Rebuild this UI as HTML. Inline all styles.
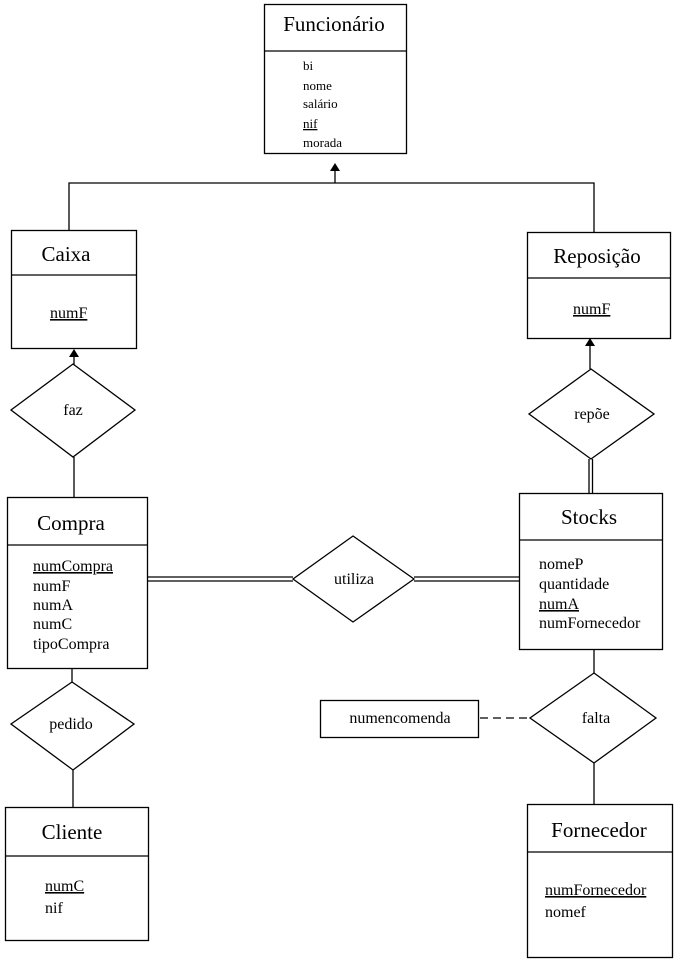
<!DOCTYPE html>
<html><head><meta charset="utf-8"><style>
html,body{margin:0;padding:0;background:#fff;}
svg text{font-family:"Liberation Serif",serif;fill:#000;}
.u{text-decoration:underline;}
</style></head><body>
<svg width="678" height="966" viewBox="0 0 678 966" xmlns="http://www.w3.org/2000/svg">
<g fill="none" stroke="#000" stroke-width="1.3">
<rect x="264.5" y="4.5" width="142" height="149"/><line x1="264" y1="51" x2="406" y2="51"/>
<line x1="335" y1="170" x2="335" y2="183"/>
<polyline points="69,230 69,183 594,183 594,232"/>
<rect x="11.5" y="230.5" width="125" height="118"/><line x1="11" y1="275" x2="137" y2="275"/>
<rect x="527.5" y="232.5" width="143" height="106"/><line x1="527" y1="278" x2="670" y2="278"/>
<line x1="74" y1="356" x2="74" y2="365"/>
<polygon points="73,364 135,410 73,457 11,410"/>
<line x1="74" y1="457" x2="74" y2="497"/>
<line x1="590" y1="346" x2="590" y2="369"/>
<polygon points="591,369 654,414 591,459 529,414"/>
<line x1="589" y1="459" x2="589" y2="493"/><line x1="592.5" y1="459" x2="592.5" y2="493"/>
<rect x="7.5" y="497.5" width="140" height="171"/><line x1="7" y1="545" x2="147" y2="545"/>
<rect x="519.5" y="493.5" width="143" height="156"/><line x1="519" y1="540" x2="662" y2="540"/>
<polygon points="353,536 414,579 353,622 293,579"/>
<line x1="147" y1="577" x2="293" y2="577"/><line x1="147" y1="581" x2="293" y2="581"/>
<line x1="414" y1="577" x2="519" y2="577"/><line x1="414" y1="581" x2="519" y2="581"/>
<line x1="72" y1="668" x2="72" y2="682"/>
<polygon points="72,682 134,724 73,770 11,724"/>
<line x1="73" y1="770" x2="73" y2="807"/>
<rect x="5.5" y="807.5" width="143" height="133"/><line x1="5" y1="856" x2="148" y2="856"/>
<line x1="594" y1="649" x2="594" y2="673"/>
<polygon points="594,673 656,718 594,763 530,718"/>
<line x1="594" y1="763" x2="594" y2="804"/>
<rect x="320.5" y="700.5" width="158" height="37"/>
<line x1="480" y1="718" x2="530" y2="718" stroke-dasharray="8,5"/>
<rect x="527.5" y="804.5" width="145" height="153"/><line x1="527" y1="852" x2="672" y2="852"/>
</g>
<g fill="#000">
<polygon points="335,163 330,171 340,171"/>
<polygon points="74,349 69,357 79,357"/>
<polygon points="590,338 585,346 595,346"/>
</g>
<g font-size="21" text-anchor="middle">
<text x="334" y="31">Funcionário</text>
<text x="66" y="261">Caixa</text>
<text x="597" y="263">Reposição</text>
<text x="71" y="530">Compra</text>
<text x="589" y="524">Stocks</text>
<text x="72" y="839">Cliente</text>
<text x="599" y="837">Fornecedor</text>
</g>
<g font-size="13">
<text x="303" y="70">bi</text>
<text x="303" y="90">nome</text>
<text x="303" y="108">salário</text>
<text x="303" y="128" class="u">nif</text>
<text x="303" y="147">morada</text>
</g>
<g font-size="16">
<text x="50" y="318" class="u">numF</text>
<text x="573" y="314" class="u">numF</text>
<text x="33" y="571" class="u">numCompra</text>
<text x="33" y="591">numF</text>
<text x="33" y="610">numA</text>
<text x="33" y="629">numC</text>
<text x="33" y="649">tipoCompra</text>
<text x="539" y="569">nomeP</text>
<text x="539" y="589">quantidade</text>
<text x="539" y="609" class="u">numA</text>
<text x="539" y="628">numFornecedor</text>
<text x="45" y="891" class="u">numC</text>
<text x="45" y="913">nif</text>
<text x="545" y="895" class="u">numFornecedor</text>
<text x="545" y="917">nomef</text>
</g>
<g font-size="16" text-anchor="middle">
<text x="73" y="415">faz</text>
<text x="592" y="419">repõe</text>
<text x="354" y="584">utiliza</text>
<text x="71" y="729">pedido</text>
<text x="596" y="723">falta</text>
<text x="400" y="723">numencomenda</text>
</g>
</svg>
</body></html>
